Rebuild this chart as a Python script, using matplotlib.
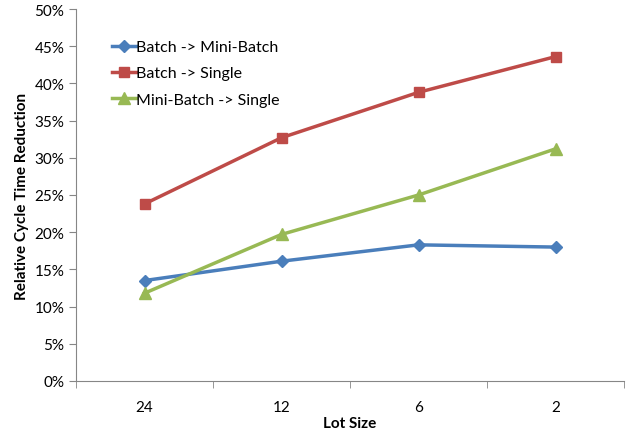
import matplotlib
matplotlib.use('Agg')
import matplotlib.pyplot as plt
from matplotlib.ticker import FuncFormatter

plt.rcParams['font.family'] = ['Lato', 'DejaVu Sans']

lot_sizes = ['24', '12', '6', '2']
batch_to_mini = [13.5, 16.1, 18.3, 18.0]
batch_to_single = [23.8, 32.7, 38.8, 43.6]
mini_to_single = [11.8, 19.7, 25.0, 31.2]

fig = plt.figure(figsize=(6.29, 4.35), dpi=100)
ax = fig.add_axes([76 / 629, 53 / 435, 548 / 629, 372 / 435])

x = range(len(lot_sizes))
ax.plot(x, batch_to_mini, color='#4a7ebb', marker='D', markersize=6, linewidth=2.5,
        label='Batch -> Mini-Batch')
ax.plot(x, batch_to_single, color='#be4b48', marker='s', markersize=7, linewidth=2.5,
        label='Batch -> Single')
ax.plot(x, mini_to_single, color='#98b954', marker='^', markersize=8, linewidth=2.5,
        label='Mini-Batch -> Single')

ax.set_xlim(-0.5, len(lot_sizes) - 0.5)
ax.set_ylim(0, 50)
ax.set_yticks(range(0, 51, 5))
ax.yaxis.set_major_formatter(FuncFormatter(lambda v, p: f'{int(v)}%'))
ax.set_xticks(list(x))
ax.set_xticklabels(lot_sizes)
ax.set_xticks([i + 0.5 for i in range(-1, len(lot_sizes))], minor=True)
ax.tick_params(axis='x', which='major', length=0, pad=14, labelsize=11)
ax.tick_params(axis='x', which='minor', length=5, color='#868686', direction='out')
ax.tick_params(axis='y', length=5, color='#868686', labelsize=11)

for side in ['top', 'right']:
    ax.spines[side].set_visible(False)
for side in ['left', 'bottom']:
    ax.spines[side].set_color('#868686')

ax.set_xlabel('Lot Size', fontweight='bold', fontsize=11, labelpad=1)
ax.set_ylabel('Relative Cycle Time Reduction', fontweight='bold', fontsize=11, labelpad=4)

ax.legend(loc='upper left', bbox_to_anchor=(0.04, 0.955), frameon=False, fontsize=11.5,
          handlelength=1.5, handletextpad=0.0, labelspacing=0.75)

fig.savefig('out.png', dpi=100)
